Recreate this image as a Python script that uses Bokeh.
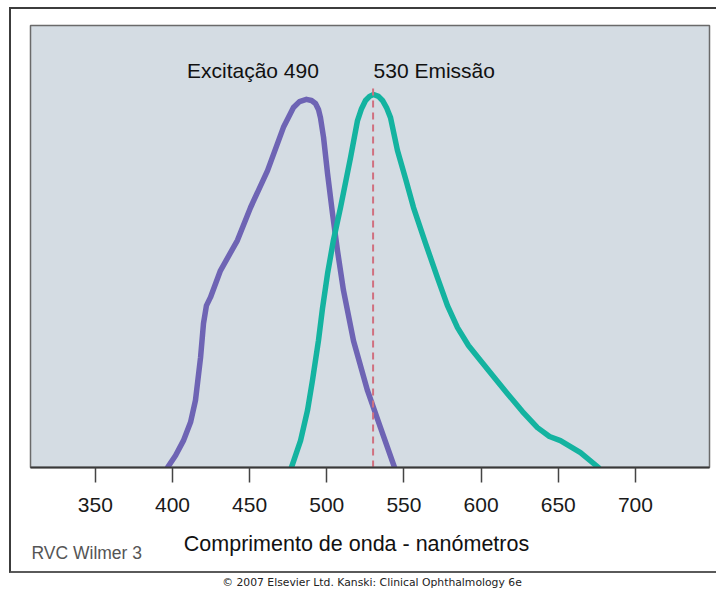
from bokeh.plotting import figure
from bokeh.layouts import column
from bokeh.models import Range1d, FixedTicker, Label, InlineStyleSheet
from bokeh.embed import file_html
from bokeh.resources import INLINE

# ---- data (wavelength nm, relative intensity %) ----
excitation_wl = [396.8, 402.0, 407.1, 411.7, 414.9, 418.2, 420.1, 422.0, 424.6, 431.1,
                 442.1, 450.6, 461.6, 471.9, 478.4, 482.3, 486.8, 490.1, 492.7, 494.6,
                 495.9, 497.9, 500.5, 503.7, 506.9, 510.8, 517.3, 526.4, 534.8, 543.9]
excitation_int = [0.0, 3.2, 7.2, 12.1, 18.0, 29.5, 38.6, 43.4, 45.6, 52.8,
                  60.9, 69.7, 79.6, 91.2, 96.5, 98.1, 98.7, 98.4, 97.6, 96.0,
                  93.8, 88.5, 78.8, 68.1, 58.2, 47.5, 34.0, 20.6, 10.7, 0.0]

emission_wl = [477.1, 479.7, 483.0, 487.5, 490.7, 494.6, 497.2, 500.5, 504.3, 508.9,
               515.4, 519.9, 522.5, 525.1, 527.7, 530.3, 533.5, 536.1, 538.7, 541.3,
               545.8, 551.0, 556.2, 564.0, 571.7, 578.2, 584.7, 591.8, 599.6, 608.0,
               617.1, 626.8, 636.5, 644.3, 651.4, 664.4, 676.1]
emission_int = [0.0, 3.2, 7.2, 15.3, 23.3, 34.0, 42.6, 52.0, 60.9, 69.7,
                83.1, 93.0, 96.2, 98.4, 99.5, 100.0, 99.5, 98.4, 96.5, 93.8,
                85.0, 77.5, 69.7, 60.1, 50.9, 43.4, 37.5, 32.7, 28.7, 24.4,
                19.8, 15.0, 10.7, 8.3, 7.2, 4.0, 0.0]

marker_wl = [530, 530]
marker_int = [0.0, 102.4]

tick_values = [350, 400, 450, 500, 550, 600, 650, 700]
excitation_label = "Excitação 490"
emission_label = "530 Emissão"
x_title = "Comprimento de onda - nanómetros"
credit = "RVC Wilmer 3"
copyright_text = "© 2007 Elsevier Ltd. Kanski: Clinical Ophthalmology 6e"

FONT = "Liberation Sans"

# ---------------- main chart ----------------
p = figure(width=716, height=522, output_backend="svg", toolbar_location=None,
           x_range=Range1d(308, 748), y_range=Range1d(0, 118.5),
           y_axis_location=None, tools="")
p.min_border_left = 30
p.min_border_right = 7
p.min_border_top = 25
p.min_border_bottom = 55

p.background_fill_color = "#d4dce3"
p.border_fill_color = "white"
p.outline_line_color = "#6a6a6a"
p.outline_line_width = 1.5
p.xgrid.visible = False
p.ygrid.visible = False

ax = p.xaxis[0]
ax.ticker = FixedTicker(ticks=tick_values)
ax.major_tick_in = 0
ax.major_tick_out = 15
ax.minor_tick_line_color = None
ax.axis_line_color = "#383838"
ax.axis_line_width = 2
ax.major_tick_line_color = "#444444"
ax.major_tick_line_width = 1.5
ax.major_label_text_font = FONT
ax.major_label_text_font_size = "21px"
ax.major_label_text_color = "#1a1a1a"
ax.major_label_standoff = 15

p.line(excitation_wl, excitation_int, line_color="#6e64b4", line_width=5.5,
       line_join="round", line_cap="round")
p.line(emission_wl, emission_int, line_color="#14b3a0", line_width=5.5,
       line_join="round", line_cap="round")
p.line(marker_wl, marker_int, line_color="#d0707f", line_width=2, line_dash="7 5")

p.add_layout(Label(x=409.4, y=106.5, text=excitation_label, text_font=FONT,
                   text_font_size="21px", text_color="#111111",
                   text_baseline="alphabetic", text_align="left"))
p.add_layout(Label(x=530.3, y=106.5, text=emission_label, text_font=FONT,
                   text_font_size="21px", text_color="#111111",
                   text_baseline="alphabetic", text_align="left"))

# ---------------- caption strip (coordinates = page pixels) ----------------
c = figure(width=716, height=67, output_backend="svg", toolbar_location=None,
           x_range=Range1d(30, 709), y_range=Range1d(589, 522),
           x_axis_location=None, y_axis_location=None, tools="")
c.min_border_left = 30
c.min_border_right = 7
c.min_border_top = 0
c.min_border_bottom = 0
c.background_fill_color = "white"
c.border_fill_color = "white"
c.outline_line_color = None
c.xgrid.visible = False
c.ygrid.visible = False

c.add_layout(Label(x=356, y=543, text=x_title, text_font=FONT,
                   text_font_size="21.5px", text_color="#111111",
                   text_baseline="alphabetic", text_align="center"))
c.add_layout(Label(x=31, y=552, text=credit, text_font=FONT,
                   text_font_size="17.5px", text_color="#555555",
                   text_baseline="alphabetic", text_align="left"))
c.add_layout(Label(x=371.5, y=582, text=copyright_text, text_font="DejaVu Sans",
                   text_font_size="10.8px", text_color="#222222",
                   text_baseline="alphabetic", text_align="center"))

frame_css = InlineStyleSheet(css="""
:host { position: relative; }
:host::after {
  content: "";
  position: absolute;
  left: 9px; top: 7px; width: 707px; height: 566px;
  box-sizing: border-box;
  border-left: 2px solid #3c3c3c;
  border-top: 2px solid #3c3c3c;
  border-bottom: 2px solid #5a5a5a;
  pointer-events: none;
  z-index: 10;
}
""")

layout = column(p, c, spacing=0, stylesheets=[frame_css])

open("out.html", "w").write(file_html(layout, INLINE))
